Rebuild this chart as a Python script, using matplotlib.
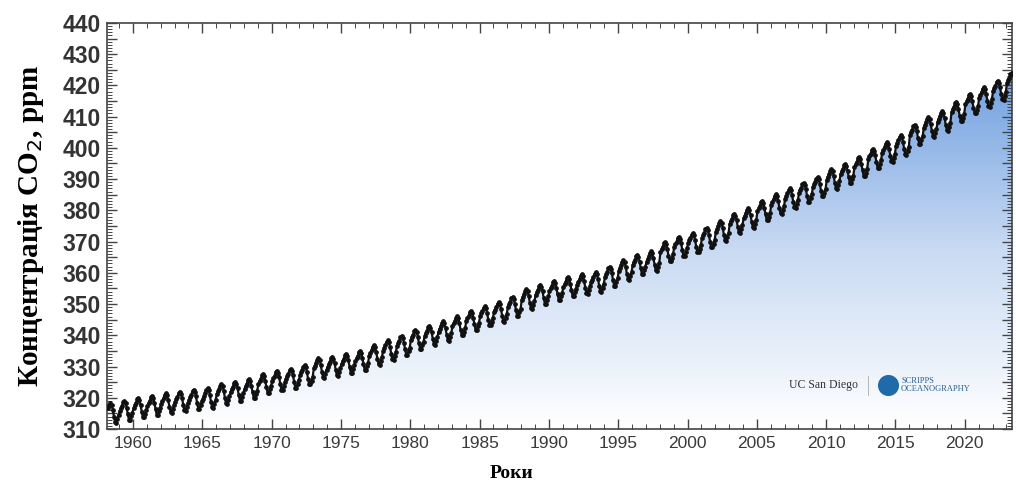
from matplotlib import pyplot as plt
from matplotlib.ticker import MultipleLocator, FuncFormatter
from matplotlib.colors import LinearSegmentedColormap
import numpy as np

# annual means, ppm (Mauna Loa)
years = list(range(1958, 2024))
annual_ppm = [315.2, 315.98, 316.91, 317.64, 318.45, 318.99, 319.62, 320.04, 321.37, 322.18,
              323.05, 324.62, 325.68, 326.32, 327.46, 329.68, 330.19, 331.12, 332.03, 333.84,
              335.41, 336.84, 338.76, 340.12, 341.48, 343.15, 344.85, 346.35, 347.61, 349.31,
              351.69, 353.20, 354.45, 355.70, 356.54, 357.21, 358.96, 360.97, 362.74, 363.88,
              366.84, 368.54, 369.71, 371.32, 373.45, 375.98, 377.70, 379.98, 382.09, 384.02,
              385.83, 387.64, 390.10, 391.85, 394.06, 396.74, 398.81, 401.01, 404.41, 406.76,
              408.72, 411.65, 414.21, 416.41, 418.53, 421.08]
# mean seasonal cycle, Jan..Dec, ppm
seasonal = [-0.3, 0.65, 1.4, 2.55, 3.0, 2.35, 0.85, -1.3, -3.05, -3.2, -1.95, -0.75]

first_month = 2   # March 1958
last_month = 5    # June 2023

t = []
co2 = []
for yi, y in enumerate(years):
    for m in range(12):
        if y == years[0] and m < first_month:
            continue
        if y == years[-1] and m > last_month:
            continue
        t.append(y + (m + 0.5) / 12)
        co2.append(annual_ppm[yi] + seasonal[m])
t = np.array(t)
co2 = np.array(co2)

fig = plt.figure(figsize=(10.16, 4.87), dpi=100)
ax = fig.add_axes([0.105, 0.119, 0.891, 0.834])
ax.set_xlim(1958.1, 2023.4)
ax.set_ylim(310, 440)

# gradient fill under the curve
cmap = LinearSegmentedColormap.from_list('fill', ['#ffffff', '#c9daf3', '#6f9fe0'])
grad = np.linspace(0, 1, 256).reshape(-1, 1)
img = ax.imshow(grad, cmap=cmap, origin='lower', aspect='auto',
                extent=[1958.1, 2023.4, 310, 425], zorder=1)
poly = ax.fill_between(t, co2, 310, color='none', zorder=1)
img.set_clip_path(poly.get_paths()[0], transform=ax.transData)

ax.plot(t, co2, color='#111111', lw=1.6, marker='o', ms=2.4, zorder=3)

# logo
ax.text(2012.3, 324.1, 'UC San Diego', fontsize=8.5, family='Liberation Serif',
        color='#333333', ha='right', va='center', zorder=4)
ax.plot([2013.0, 2013.0], [321.0, 327.0], color='#aaaaaa', lw=0.6, zorder=4)
ax.scatter([2014.45], [324.1], s=200, color='#1f6aa8', zorder=4)
ax.text(2015.4, 325.3, 'SCRIPPS', fontsize=6, family='Liberation Serif',
        color='#2a5f90', va='center', zorder=4)
ax.text(2015.4, 322.8, 'OCEANOGRAPHY', fontsize=6, family='Liberation Serif',
        color='#2a5f90', va='center', zorder=4)

ax.xaxis.set_major_locator(MultipleLocator(5))
ax.xaxis.set_minor_locator(MultipleLocator(1))
ax.yaxis.set_major_locator(MultipleLocator(5))
ax.yaxis.set_minor_locator(MultipleLocator(1))
ax.yaxis.set_major_formatter(FuncFormatter(lambda v, p: '%d' % v if round(v) % 10 == 0 else ''))
ax.tick_params(which='both', direction='in', top=True, right=True, color='#444444')
ax.tick_params(which='major', length=7, width=1.0)
ax.tick_params(which='minor', length=3.5, width=0.7)
ax.tick_params(axis='y', which='major', labelsize=16.5, pad=4)
ax.tick_params(axis='x', which='major', labelsize=12.5, pad=5)
for lab in ax.get_yticklabels():
    lab.set_fontweight('bold')
    lab.set_color('#333333')
    lab.set_family('Liberation Sans')
for lab in ax.get_xticklabels():
    lab.set_color('#3a3a3a')
    lab.set_family('Liberation Sans')
for s in ax.spines.values():
    s.set_color('#444444')
    s.set_linewidth(1.2)

ax.set_xlabel('Роки', family='Liberation Serif', fontweight='bold', fontsize=14)
ax.xaxis.set_label_coords(0.447, -0.088)
ax.set_ylabel('Концентрація CO$_2$, ppm', family='Liberation Serif', fontweight='bold',
              fontsize=21, labelpad=12)

fig.savefig('out.png', dpi=100)
